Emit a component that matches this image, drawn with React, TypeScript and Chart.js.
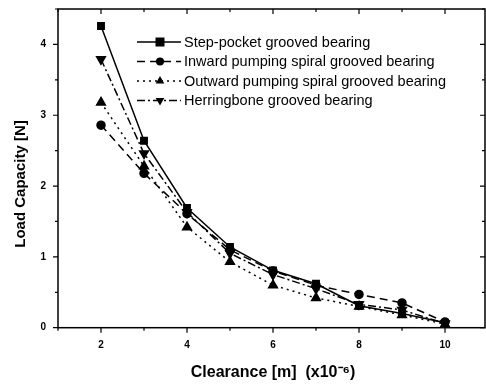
import React, { useEffect, useRef } from 'react';
import { Chart, registerables } from 'chart.js';

Chart.register(...registerables);

const clearance = [2, 3, 4, 5, 6, 7, 8, 9, 10];
const stepPocket = [4.26, 2.64, 1.69, 1.14, 0.81, 0.62, 0.31, 0.2, 0.07];
const inwardSpiral = [2.86, 2.18, 1.61, 1.1, 0.8, 0.6, 0.47, 0.35, 0.08];
const outwardSpiral = [3.18, 2.28, 1.42, 0.93, 0.6, 0.42, 0.3, 0.18, 0.05];
const herringbone = [3.79, 2.46, 1.63, 1.05, 0.75, 0.55, 0.33, 0.25, 0.06];
const seriesNames = [
  'Step-pocket grooved bearing',
  'Inward pumping spiral grooved bearing',
  'Outward pumping spiral grooved bearing',
  'Herringbone grooved bearing',
];
const xTickLabels = [2, 4, 6, 8, 10];
const yTickLabels = [0, 1, 2, 3, 4];
const xTitle = 'Clearance [m]  (x10⁻⁶)';
const yTitle = 'Load Capacity [N]';

const FONT = 'Liberation Sans, Arial, sans-serif';

const toPoints = (ys: number[]) => clearance.map((x, i) => ({ x, y: ys[i] }));

function drawMarker(ctx: CanvasRenderingContext2D, style: string, r: number, rot: number, x: number, y: number) {
  ctx.beginPath();
  if (style === 'rect') {
    ctx.rect(x - r, y - r, 2 * r, 2 * r);
  } else if (style === 'circle') {
    ctx.arc(x, y, r, 0, Math.PI * 2);
  } else {
    const s = rot ? -1 : 1;
    ctx.moveTo(x, y - s * r);
    ctx.lineTo(x + r * 0.866, y + s * r * 0.5);
    ctx.lineTo(x - r * 0.866, y + s * r * 0.5);
    ctx.closePath();
  }
  ctx.fill();
}

const framePlugin = {
  id: 'frameTicks',
  afterDraw(chart: any) {
    const ctx = chart.ctx;
    const { left, right, top, bottom } = chart.chartArea;
    const xs = chart.scales.x;
    const ys = chart.scales.y;
    ctx.save();
    ctx.strokeStyle = '#000';
    ctx.lineWidth = 1.5;
    ctx.setLineDash([]);
    ctx.strokeRect(left, top, right - left, bottom - top);
    ctx.lineWidth = 1.2;
    for (let v = 1; v <= 11; v++) {
      const px = xs.getPixelForValue(v);
      if (px < left - 0.5 || px > right + 0.5) continue;
      const major = xTickLabels.includes(v);
      const len = major ? 5 : 3;
      ctx.beginPath();
      ctx.moveTo(px, bottom);
      ctx.lineTo(px, bottom + len);
      ctx.moveTo(px, top);
      ctx.lineTo(px, top + len);
      ctx.stroke();
    }
    for (let v = 0; v <= 4.5; v += 0.5) {
      const py = ys.getPixelForValue(v);
      const major = yTickLabels.includes(v);
      const len = major ? 5 : 3;
      ctx.beginPath();
      ctx.moveTo(left, py);
      ctx.lineTo(left - len, py);
      ctx.moveTo(right, py);
      ctx.lineTo(right - len, py);
      ctx.stroke();
    }
    ctx.fillStyle = '#000';
    ctx.textAlign = 'center';
    ctx.textBaseline = 'middle';
    ctx.font = `bold 16px ${FONT}`;
    ctx.fillText(xTitle, 273, 373);
    ctx.font = `bold 15px ${FONT}`;
    ctx.translate(21, 184);
    ctx.rotate(-Math.PI / 2);
    ctx.fillText(yTitle, 0, 0);
    ctx.restore();

    ctx.save();
    const rows = [42, 61.5, 81, 100.5];
    chart.data.datasets.forEach((ds: any, i: number) => {
      const y = rows[i];
      ctx.strokeStyle = '#000';
      ctx.lineWidth = ds.borderWidth;
      ctx.setLineDash(ds.borderDash || []);
      ctx.beginPath();
      ctx.moveTo(137, y);
      ctx.lineTo(181, y);
      ctx.stroke();
      ctx.setLineDash([]);
      ctx.fillStyle = '#000';
      drawMarker(ctx, ds.pointStyle, ds.pointRadius, ds.pointRotation || 0, 160, y);
      ctx.font = `14.5px ${FONT}`;
      ctx.textAlign = 'left';
      ctx.textBaseline = 'middle';
      ctx.fillText(seriesNames[i], 184, y + 0.5);
    });
    ctx.restore();
  },
};

export default function App() {
  const ref = useRef<HTMLCanvasElement>(null);
  useEffect(() => {
    document.body.style.margin = '0';
    const common = {
      borderColor: '#000',
      backgroundColor: '#000',
      pointBackgroundColor: '#000',
      pointBorderColor: '#000',
      borderWidth: 1.5,
      tension: 0,
      fill: false,
    };
    const chart = new Chart(ref.current!, {
      type: 'line',
      data: {
        datasets: [
          { ...common, label: seriesNames[0], data: toPoints(stepPocket), pointStyle: 'rect', pointRadius: 4.5 },
          { ...common, label: seriesNames[1], data: toPoints(inwardSpiral), borderDash: [8, 5], pointStyle: 'circle', pointRadius: 4 },
          { ...common, label: seriesNames[2], data: toPoints(outwardSpiral), borderDash: [2, 4], pointStyle: 'triangle', pointRadius: 5 },
          { ...common, label: seriesNames[3], data: toPoints(herringbone), borderDash: [8, 3, 2, 3], pointStyle: 'triangle', pointRotation: 180, pointRadius: 5 },
        ] as any,
      },
      options: {
        animation: false,
        responsive: false,
        maintainAspectRatio: false,
        layout: { autoPadding: false, padding: { top: 9, right: 1, left: 0, bottom: 0 } },
        plugins: { legend: { display: false }, tooltip: { enabled: false } },
        scales: {
          x: {
            type: 'linear',
            min: 1,
            max: 10.93,
            grid: { display: false },
            border: { display: false },
            afterFit: (s: any) => { s.height = 61.3; s.paddingLeft = 0; s.paddingRight = 0; },
            ticks: {
              stepSize: 1,
              includeBounds: false,
              padding: 4,
              color: '#000',
              maxRotation: 0,
              autoSkip: false,
              font: { family: FONT, size: 10, weight: 'bold' },
              callback: (v: any) => (xTickLabels.includes(Number(v)) ? String(v) : ''),
            },
          },
          y: {
            type: 'linear',
            min: 0,
            max: 4.5,
            grid: { display: false },
            border: { display: false },
            afterFit: (s: any) => { s.width = 58; s.paddingTop = 0; s.paddingBottom = 0; },
            ticks: {
              stepSize: 0.5,
              padding: 4,
              color: '#000',
              autoSkip: false,
              font: { family: FONT, size: 10, weight: 'bold' },
              callback: (v: any) => (yTickLabels.includes(Number(v)) ? String(v) : ''),
            },
          },
        },
      },
      plugins: [framePlugin],
    });
    return () => chart.destroy();
  }, []);
  return (
    <div style={{ position: 'fixed', left: 0, top: 0, width: 486, height: 389 }}>
      <canvas ref={ref} width={486} height={389} style={{ display: 'block' }} />
    </div>
  );
}
